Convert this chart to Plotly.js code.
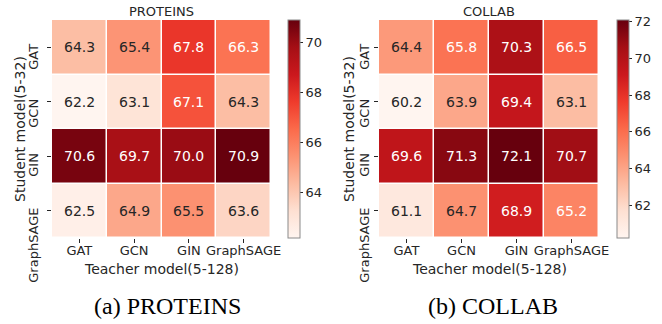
<!DOCTYPE html>
<html>
<head>
<meta charset="utf-8">
<script src="https://cdn.plot.ly/plotly-3.0.1.min.js"></script>
<style>html,body{margin:0;padding:0;background:#fff;}#chart{width:662px;height:324px;}</style>
</head>
<body>
<div id="chart"></div>
<script>
// ---- data ----
const teachers = ['GAT', 'GCN', 'GIN', 'GraphSAGE'];
const students = ['GAT', 'GCN', 'GIN', 'GraphSAGE'];
const proteins = [
  [64.3, 65.4, 67.8, 66.3],
  [62.2, 63.1, 67.1, 64.3],
  [70.6, 69.7, 70.0, 70.9],
  [62.5, 64.9, 65.5, 63.6]
];
const collab = [
  [64.4, 65.8, 70.3, 66.5],
  [60.2, 63.9, 69.4, 63.1],
  [69.6, 71.3, 72.1, 70.7],
  [61.1, 64.7, 68.9, 65.2]
];
const panelTitles = ['PROTEINS', 'COLLAB'];
const captions = ['(a) PROTEINS', '(b) COLLAB'];
const xTitle = 'Teacher model(5-128)';
const yTitle = 'Student model(5-32)';

// ---- style ----
const W = 662, H = 324;
const reds = ['#fff5f0','#fee0d2','#fcbba1','#fc9272','#fb6a4a','#ef3b2c','#cb181d','#a50f15','#67000d'];
const colorscale = reds.map((c, i) => [i / (reds.length - 1), c]);
const FONT = 'DejaVu Sans, sans-serif';
const DARK = '#262626';

function hexToRgb(h){ return [1,3,5].map(k => parseInt(h.slice(k, k+2), 16) / 255); }
function colorAt(t){
  const n = reds.length - 1;
  const p = Math.min(Math.max(t, 0), 1) * n;
  const i = Math.min(Math.floor(p), n - 1);
  const f = p - i;
  const a = hexToRgb(reds[i]), b = hexToRgb(reds[i+1]);
  return a.map((v, k) => v + (b[k] - v) * f);
}
function lum(rgb){
  const l = rgb.map(v => v <= 0.03928 ? v / 12.92 : Math.pow((v + 0.055) / 1.055, 2.4));
  return 0.2126 * l[0] + 0.7152 * l[1] + 0.0722 * l[2];
}

const px = x => x / W;
const py = y => (H - y) / H;

const panels = [
  {z: proteins, x0: 52, x1: 271, cb: 288, ylab: 43, ytit: 20},
  {z: collab,   x0: 379, x1: 599, cb: 617, ylab: 374, ytit: 349}
];
const plotTop = 20, plotBottom = 238;
const yDom = [py(plotBottom), py(plotTop)];

const data = [];
const annotations = [];
const layout = {
  width: W, height: H,
  margin: {l: 0, r: 0, t: 0, b: 0},
  paper_bgcolor: '#fff', plot_bgcolor: '#fff',
  font: {family: FONT, color: DARK},
  showlegend: false
};

panels.forEach((p, k) => {
  const xa = k === 0 ? 'x' : 'x2';
  const ya = k === 0 ? 'y' : 'y2';
  const xKey = k === 0 ? 'xaxis' : 'xaxis2';
  const yKey = k === 0 ? 'yaxis' : 'yaxis2';
  const flat = p.z.flat();
  const zmin = Math.min(...flat), zmax = Math.max(...flat);
  data.push({
    type: 'heatmap', x: teachers, y: students, z: p.z,
    xaxis: xa, yaxis: ya,
    zmin: zmin, zmax: zmax,
    colorscale: colorscale,
    xgap: 1.5, ygap: 1.5,
    hoverinfo: 'skip',
    colorbar: {
      x: px(p.cb), xanchor: 'left', xpad: 0, ypad: 0,
      y: (yDom[0] + yDom[1]) / 2, yanchor: 'middle',
      len: yDom[1] - yDom[0], lenmode: 'fraction',
      thickness: 12, thicknessmode: 'pixels',
      outlinewidth: 1, outlinecolor: '#8a8a8a',
      ticks: 'outside', ticklen: 3, tickcolor: DARK, dtick: 2,
      tickfont: {family: FONT, size: 13, color: DARK}
    }
  });
  layout[xKey] = {
    domain: [px(p.x0), px(p.x1)], anchor: ya,
    type: 'category', showgrid: false, zeroline: false, showline: false,
    ticks: 'outside', ticklen: 4, tickcolor: DARK, tickwidth: 1,
    ticklabelstandoff: -4,
    tickfont: {family: FONT, size: 13, color: DARK}, tickangle: 0
  };
  layout[yKey] = {
    domain: yDom, anchor: xa,
    type: 'category', autorange: 'reversed', showgrid: false, zeroline: false, showline: false,
    ticks: 'outside', ticklen: 4, tickcolor: DARK, tickwidth: 1,
    showticklabels: false
  };
  // cell values
  p.z.forEach((row, i) => row.forEach((v, j) => {
    const c = lum(colorAt((v - zmin) / (zmax - zmin))) > 0.408 ? DARK : '#ffffff';
    annotations.push({
      xref: xa, yref: ya, x: j, y: i, text: v.toFixed(1), showarrow: false,
      font: {family: FONT, size: 14, color: c}
    });
  }));
  // y tick labels (rotated, hanging below the tick)
  students.forEach((s, i) => {
    annotations.push({
      xref: 'paper', yref: ya, x: px(p.ylab), y: i, xanchor: 'right', yanchor: 'top',
      yshift: 5, textangle: -90, text: s, showarrow: false,
      font: {family: FONT, size: 13, color: DARK}
    });
  });
  const cx = px((p.x0 + p.x1) / 2);
  annotations.push({xref: 'paper', yref: 'paper', x: cx, y: py(11), text: panelTitles[k],
    showarrow: false, xanchor: 'center', yanchor: 'middle', font: {family: FONT, size: 13, color: DARK}});
  annotations.push({xref: 'paper', yref: 'paper', x: cx, y: py(269), text: xTitle,
    showarrow: false, xanchor: 'center', yanchor: 'middle', font: {family: FONT, size: 14, color: DARK}});
  annotations.push({xref: 'paper', yref: 'paper', x: px(p.ytit), y: (yDom[0] + yDom[1]) / 2, text: yTitle,
    textangle: -90, showarrow: false, xanchor: 'center', yanchor: 'middle', font: {family: FONT, size: 14, color: DARK}});
  annotations.push({xref: 'paper', yref: 'paper', x: px(k === 0 ? 167 : 493), y: py(306), text: captions[k],
    showarrow: false, xanchor: 'center', yanchor: 'middle',
    font: {family: 'Liberation Serif, Times New Roman, serif', size: 24, color: '#000'}});
});
layout.annotations = annotations;

Plotly.newPlot('chart', data, layout, {displayModeBar: false, staticPlot: true});
</script>
</body>
</html>
